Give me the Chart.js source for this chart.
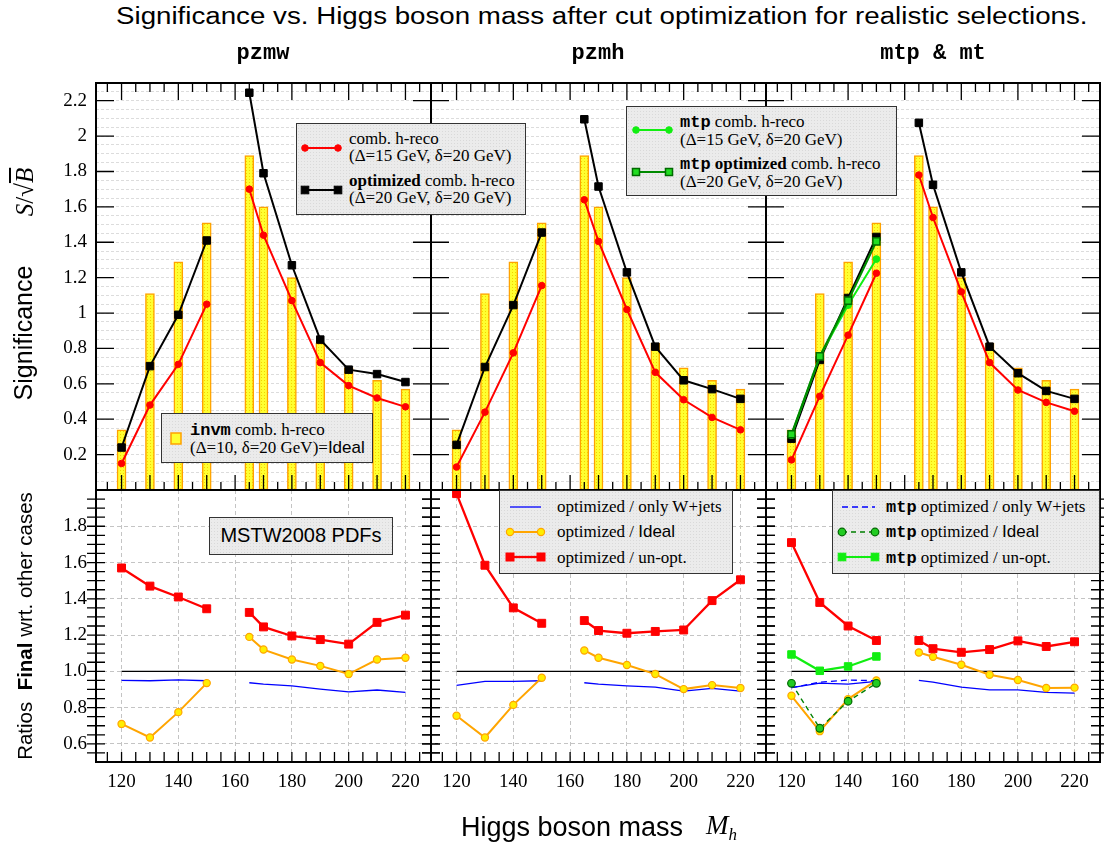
<!DOCTYPE html>
<html>
<head>
<meta charset="utf-8">
<script src="https://cdn.jsdelivr.net/npm/chart.js@4.4.0/dist/chart.umd.min.js"></script>
<style>
  body { margin: 0; background: #fff; }
  #wrap { position: relative; width: 1104px; height: 852px; overflow: hidden; font-family: "Liberation Serif", serif; }
  #wrap canvas { position: absolute; }
  .txt { position: absolute; white-space: nowrap; color: #000; }
  .rot { position: absolute; white-space: nowrap; transform: translate(-50%, -50%) rotate(-90deg); }
  .box { position: absolute; box-sizing: border-box; border: 1.5px solid #333; background-color: #ebebeb;
         background-image: radial-gradient(#d9d9d9 0.7px, transparent 0.8px); background-size: 3px 3px; }
  .lt { position: absolute; white-space: nowrap; font: 17px/17px "Liberation Serif", serif; }
  .mono { font-family: "Liberation Mono", monospace; font-weight: bold; }
  .sans { font-family: "Liberation Sans", sans-serif; }
</style>
</head>
<body>
<div id="wrap"></div>
<script>
// masses (GeV) at which things were computed
const masses = [120, 130, 140, 150, 165, 170, 180, 190, 200, 210, 220];
const lowMasses = [120, 130, 140, 150];
const xLabels = [120, 140, 160, 180, 200, 220];
const sigTicks = [0.2, 0.4, 0.6, 0.8, 1, 1.2, 1.4, 1.6, 1.8, 2, 2.2];
const ratioTicks = [0.6, 0.8, 1.0, 1.2, 1.4, 1.6, 1.8];

// invm ideal (yellow bars), same in all panels
const idealBars = [0.34, 1.11, 1.29, 1.51, 1.89, 1.60, 1.20, 0.83, 0.69, 0.62, 0.57];

// significance
const pzmwComb = [0.15, 0.48, 0.71, 1.05, 1.70, 1.44, 1.07, 0.72, 0.59, 0.52, 0.47];
const pzmwOpt  = [0.24, 0.70, 0.99, 1.41, 2.245, 1.79, 1.27, 0.85, 0.68, 0.655, 0.61];
const pzmhComb = [0.13, 0.44, 0.775, 1.155, 1.64, 1.405, 1.02, 0.665, 0.51, 0.41, 0.34];
const pzmhOpt  = [0.255, 0.695, 1.045, 1.455, 2.095, 1.715, 1.23, 0.81, 0.62, 0.57, 0.515];
const mtComb   = [0.17, 0.53, 0.875, 1.225, 1.78, 1.54, 1.12, 0.72, 0.565, 0.495, 0.445];
const mtOpt    = [0.29, 0.735, 1.085, 1.43, 2.075, 1.725, 1.23, 0.81, 0.66, 0.56, 0.515];
const mtpComb  = [0.31, 0.755, 1.045, 1.305];
const mtpOpt   = [0.315, 0.755, 1.07, 1.405];

// ratios
const pzmwUnopt = [1.57, 1.47, 1.41, 1.345, 1.325, 1.245, 1.195, 1.175, 1.15, 1.27, 1.31];
const pzmwIdeal = [0.71, 0.635, 0.775, 0.935, 1.19, 1.12, 1.065, 1.03, 0.985, 1.065, 1.075];
const pzmwWjets = [0.95, 0.948, 0.953, 0.948, 0.937, 0.93, 0.92, 0.902, 0.887, 0.897, 0.884];
const pzmhUnopt = [1.98, 1.585, 1.35, 1.265, 1.28, 1.225, 1.21, 1.22, 1.228, 1.39, 1.505];
const pzmhIdeal = [0.755, 0.635, 0.815, 0.965, 1.115, 1.075, 1.035, 0.985, 0.902, 0.924, 0.908];
const pzmhWjets = [0.923, 0.945, 0.945, 0.948, 0.937, 0.93, 0.92, 0.913, 0.891, 0.906, 0.891];
const mtUnopt   = [1.71, 1.38, 1.25, 1.17, 1.17, 1.125, 1.105, 1.12, 1.168, 1.137, 1.163];
const mtIdeal   = [0.865, 0.67, 0.847, 0.95, 1.104, 1.08, 1.036, 0.981, 0.952, 0.908, 0.91];
const mtWjets   = [0.91, 0.935, 0.93, 0.945, 0.95, 0.94, 0.913, 0.898, 0.898, 0.884, 0.88];
const mtpWjets  = [0.91, 0.94, 0.952, 0.948];
const mtpIdeal  = [0.934, 0.686, 0.835, 0.934];
const mtpUnopt  = [1.093, 1.003, 1.027, 1.082];
const refLine   = [1, 1];

const wrap = document.getElementById('wrap');
const cols = [{l: 96, w: 335}, {l: 431, w: 335}, {l: 766, w: 334}];
const rows = [{t: 83, h: 407, min: 0, max: 2.3}, {t: 490, h: 272, min: 0.5, max: 2.0}];
// generous padding so the scale's own label padding never moves the plot area
const PADL = 70, PADT = 40, PADR = 20, PADB = 45;

function pts(xs, ys) { return ys.map((y, i) => ({x: xs[i], y: y})); }

// no line across the 150 -> 165 gap
const gap = {borderColor: c => c.p0.parsed.x === 150 ? 'rgba(0,0,0,0)' : undefined};

function line(xs, ys, color, width, o) {
  return Object.assign({
    type: 'line', data: pts(xs, ys), borderColor: color, borderWidth: width,
    pointRadius: 0, pointBorderWidth: 1, tension: 0, fill: false, segment: gap
  }, o || {});
}

function barPattern() {
  const p = document.createElement('canvas');
  p.width = 3; p.height = 3;
  const g = p.getContext('2d');
  g.fillStyle = '#ffff30'; g.fillRect(0, 0, 3, 3);
  g.fillStyle = '#f2d400'; g.fillRect(1, 1, 1, 1);
  return g.createPattern(p, 'repeat');
}

function bars() {
  return {type: 'bar', data: pts(masses, idealBars), backgroundColor: barPattern(),
          borderColor: '#ffa200', borderWidth: 1.5, borderSkipped: false, barThickness: 9};
}

const redComb = ys => line(masses, ys, '#ff0000', 2, {pointRadius: 3.3, pointBackgroundColor: '#ff0000', pointBorderColor: '#ff0000'});
const blackOpt = ys => line(masses, ys, '#000', 2, {pointStyle: 'rect', pointRadius: 5.3, pointBackgroundColor: '#000', pointBorderColor: '#000'});
const redUnopt = ys => line(masses, ys, '#ff0000', 2.3, {pointStyle: 'rect', pointRadius: 5.6, pointBackgroundColor: '#ff0000', pointBorderColor: '#ff0000'});
const orangeIdeal = ys => line(masses, ys, '#ffa500', 2, {pointRadius: 3.6, pointBorderWidth: 1.2, pointBackgroundColor: '#ffee00', pointBorderColor: '#ffa500'});
const blueWjets = ys => line(masses, ys, '#0000ff', 1.3);
const ref = () => line([120, 220], refLine, '#000', 1.4, {segment: {}});

function framePlugin(top) {
  return {
    id: 'frame',
    afterDatasetsDraw(chart) {
      const {ctx, chartArea: a, scales: {x, y}} = chart;
      ctx.save();
      ctx.strokeStyle = '#000';
      ctx.lineWidth = 1.3;
      ctx.beginPath();
      if (top) {
        for (let k = 1; k <= 11; k++) {
          const py = y.getPixelForValue(k * 0.2);
          ctx.moveTo(a.left, py); ctx.lineTo(a.left + 18, py);
          ctx.moveTo(a.right, py); ctx.lineTo(a.right - 18, py);
        }
        for (let m = 115; m <= 225; m += 5) {
          const px = x.getPixelForValue(m);
          const lt = m % 20 === 0 ? 17 : 9, lb = m % 10 === 0 ? 15 : 8;
          ctx.moveTo(px, a.top); ctx.lineTo(px, a.top + lt);
          ctx.moveTo(px, a.bottom); ctx.lineTo(px, a.bottom - lb);
        }
      } else {
        for (let k = 11; k <= 39; k++) {
          const py = y.getPixelForValue(k * 0.05);
          ctx.moveTo(a.left - 9, py); ctx.lineTo(a.left + 9, py);
          ctx.moveTo(a.right - 9, py); ctx.lineTo(a.right + 9, py);
        }
        for (let m = 115; m <= 225; m += 5) {
          const px = x.getPixelForValue(m);
          ctx.moveTo(px, a.bottom); ctx.lineTo(px, a.bottom - 10);
        }
      }
      ctx.stroke();
      ctx.lineWidth = 2;
      ctx.strokeRect(a.left, a.top, a.right - a.left, a.bottom - a.top);
      ctx.restore();
    }
  };
}

const sigGrid = [];
for (let k = 1; k <= 45; k++) sigGrid.push(+(k * 0.05).toFixed(2));

function panel(c, r, datasets) {
  const col = cols[c], row = rows[r], top = r === 0;
  const cv = document.createElement('canvas');
  const W = col.w + PADL + PADR, H = row.h + PADT + PADB;
  cv.width = W; cv.height = H;
  cv.style.left = (col.l - PADL) + 'px';
  cv.style.top = (row.t - PADT) + 'px';
  cv.style.width = W + 'px';
  cv.style.height = H + 'px';
  wrap.appendChild(cv);
  const tickFont = {family: 'Liberation Serif', size: 19};
  new Chart(cv, {
    type: 'line',
    data: {datasets: datasets},
    options: {
      responsive: false, animation: false, devicePixelRatio: 1,
      layout: {padding: {left: 0, top: PADT, right: PADR, bottom: 0}, autoPadding: false},
      plugins: {legend: {display: false}, tooltip: {enabled: false}},
      scales: {
        x: {
          type: 'linear', min: 111, max: 229, offset: false,
          afterFit: s => { s.height = PADB; },
          afterBuildTicks: s => { s.ticks = xLabels.map(v => ({value: v})); },
          grid: {display: !top, color: '#c4c4c4', lineWidth: 1, drawTicks: false},
          border: {display: false, dash: [4, 3]},
          ticks: {display: !top, autoSkip: false, maxRotation: 0, padding: 9, color: '#000', font: tickFont}
        },
        y: {
          type: 'linear', min: row.min, max: row.max,
          afterFit: s => { s.width = PADL; },
          afterBuildTicks: s => { s.ticks = (top ? sigGrid : ratioTicks).map(v => ({value: v})); },
          grid: {color: top ? '#dcdcdc' : '#c4c4c4', lineWidth: 1, drawTicks: false},
          border: {display: false, dash: top ? [3, 2] : [4, 3]},
          ticks: {
            display: c === 0, autoSkip: false, padding: 9, color: '#000', font: tickFont,
            callback: v => top ? (sigTicks.includes(+v.toFixed(2)) ? String(+v.toFixed(2)) : '') : v.toFixed(1)
          }
        }
      }
    },
    plugins: [framePlugin(top)]
  });
}

// top row: significance
panel(0, 0, [blackOpt(pzmwOpt), redComb(pzmwComb), bars()]);
panel(1, 0, [blackOpt(pzmhOpt), redComb(pzmhComb), bars()]);
panel(2, 0, [
  line(lowMasses, mtpOpt, '#008a00', 2.2, {pointStyle: 'rect', pointRadius: 5, pointBorderWidth: 1.5, pointBackgroundColor: '#22dd22', pointBorderColor: '#006a00'}),
  line(lowMasses, mtpComb, '#11ee11', 2, {pointRadius: 3.4, pointBackgroundColor: '#11ee11', pointBorderColor: '#11ee11'}),
  blackOpt(mtOpt), redComb(mtComb), bars()
]);

// bottom row: ratios
panel(0, 1, [redUnopt(pzmwUnopt), orangeIdeal(pzmwIdeal), blueWjets(pzmwWjets), ref()]);
panel(1, 1, [redUnopt(pzmhUnopt), orangeIdeal(pzmhIdeal), blueWjets(pzmhWjets), ref()]);
panel(2, 1, [
  line(lowMasses, mtpIdeal, '#008000', 1.4, {borderDash: [5, 4], pointRadius: 3.8, pointBorderWidth: 1.2, pointBackgroundColor: '#22cc22', pointBorderColor: '#006600'}),
  line(lowMasses, mtpUnopt, '#11ee11', 2.2, {pointStyle: 'rect', pointRadius: 5.3, pointBackgroundColor: '#11ee11', pointBorderColor: '#11ee11'}),
  line(lowMasses, mtpWjets, '#0000ff', 1.3, {borderDash: [6, 4]}),
  redUnopt(mtUnopt), orangeIdeal(mtIdeal), blueWjets(mtWjets), ref()
]);

// ---- texts and legends ----
function add(html, cls, style) {
  const d = document.createElement('div');
  d.className = cls;
  d.innerHTML = html;
  Object.assign(d.style, style);
  wrap.appendChild(d);
  return d;
}

const title = add('Significance vs. Higgs boson mass after cut optimization for realistic selections.', 'txt sans',
  {left: '116px', top: '3px', fontSize: '23px', transformOrigin: '0 0'});
title.style.transform = 'scaleX(' + (972 / title.offsetWidth) + ')';

[['pzmw', 263], ['pzmh', 598], ['mtp &amp; mt', 933]].forEach(([t, cx]) => {
  add(t, 'txt mono', {left: cx + 'px', top: '41px', fontSize: '22px', transform: 'translateX(-50%)'});
});

add('Significance', 'rot sans', {left: '23px', top: '333px', fontSize: '25px'});
add('<i>S</i>/√<span style="text-decoration:overline"><i>B</i></span>', 'rot', {left: '25px', top: '192px', fontSize: '25px'});
add('Ratios&nbsp;&nbsp;<b>Final</b> wrt. other cases', 'rot sans', {left: '25px', top: '626px', fontSize: '20.5px'});

add('Higgs boson mass', 'txt sans', {left: '461px', top: '812px', fontSize: '27px'});
add('<i>M<sub style="font-size:17px">h</sub></i>', 'txt', {left: '706px', top: '810px', fontSize: '27px'});

// legend boxes
add('', 'box', {left: '296px', top: '123px', width: '230px', height: '92px'});
add('comb. h-reco<br>(Δ=15 GeV, δ=20 GeV)', 'lt', {left: '349px', top: '130px'});
add('<b>optimized</b> comb. h-reco<br>(Δ=20 GeV, δ=20 GeV)', 'lt', {left: '349px', top: '172px'});

add('', 'box', {left: '626px', top: '106px', width: '271px', height: '90px'});
add('<span class="mono">mtp</span> comb. h-reco<br>(Δ=15 GeV, δ=20 GeV)', 'lt', {left: '680px', top: '113px'});
add('<span class="mono">mtp</span> <b>optimized</b> comb. h-reco<br>(Δ=20 GeV, δ=20 GeV)', 'lt', {left: '680px', top: '155px'});

add('', 'box', {left: '161px', top: '413px', width: '212px', height: '50px'});
add('<span class="mono">invm</span> comb. h-reco<br>(Δ=10, δ=20 GeV)=<span class="sans">Ideal</span>', 'lt', {left: '190px', top: '421px'});

add('', 'box', {left: '209px', top: '517px', width: '184px', height: '38px'});
add('MSTW2008 PDFs', 'txt sans', {left: '301px', top: '524px', fontSize: '20px', transform: 'translateX(-50%)'});

add('', 'box', {left: '499px', top: '490px', width: '234px', height: '84px'});
add('optimized / only W+jets', 'lt', {left: '557px', top: '498px'});
add('optimized / <span class="sans">Ideal</span>', 'lt', {left: '557px', top: '523px'});
add('optimized / un-opt.', 'lt', {left: '557px', top: '549px'});

add('', 'box', {left: '832px', top: '490px', width: '268px', height: '84px'});
add('<span class="mono">mtp</span> optimized / only W+jets', 'lt', {left: '886px', top: '498px'});
add('<span class="mono">mtp</span> optimized / <span class="sans">Ideal</span>', 'lt', {left: '886px', top: '523px'});
add('<span class="mono">mtp</span> optimized / un-opt.', 'lt', {left: '886px', top: '549px'});

// legend symbols
const NS = 'http://www.w3.org/2000/svg';
const svg = document.createElementNS(NS, 'svg');
svg.setAttribute('width', 1104); svg.setAttribute('height', 852);
svg.style.cssText = 'position:absolute;left:0;top:0;pointer-events:none';
wrap.appendChild(svg);
function s(tag, attrs) {
  const e = document.createElementNS(NS, tag);
  for (const k in attrs) e.setAttribute(k, attrs[k]);
  svg.appendChild(e);
}
function sym(x1, x2, y, stroke, w, dash, mk) {
  s('line', {x1: x1, y1: y, x2: x2, y2: y, stroke: stroke, 'stroke-width': w, 'stroke-dasharray': dash || 'none'});
  if (!mk) return;
  [x1, x2].forEach(x => {
    if (mk.shape === 'rect') s('rect', {x: x - mk.r, y: y - mk.r, width: 2 * mk.r, height: 2 * mk.r, fill: mk.fill, stroke: mk.stroke, 'stroke-width': mk.sw || 1});
    else s('circle', {cx: x, cy: y, r: mk.r, fill: mk.fill, stroke: mk.stroke, 'stroke-width': mk.sw || 1});
  });
}
sym(305, 338, 148, '#ff0000', 2, null, {r: 3.3, fill: '#ff0000', stroke: '#ff0000'});
sym(305, 338, 190, '#000', 2, null, {shape: 'rect', r: 3.8, fill: '#000', stroke: '#000'});
sym(636, 669, 130, '#11ee11', 2, null, {r: 3.3, fill: '#11ee11', stroke: '#11ee11'});
sym(636, 669, 172, '#008a00', 2.2, null, {shape: 'rect', r: 3.5, fill: '#22dd22', stroke: '#006a00', sw: 1.5});
s('rect', {x: 171, y: 433, width: 10, height: 11, fill: '#ffff30', stroke: '#ffa200', 'stroke-width': 1.5});
sym(510, 541, 507, '#0000ff', 1.3);
sym(510, 541, 532, '#ffa500', 2, null, {r: 3.6, fill: '#ffee00', stroke: '#ffa500', sw: 1.2});
sym(510, 541, 557, '#ff0000', 2.3, null, {shape: 'rect', r: 4, fill: '#ff0000', stroke: '#ff0000'});
sym(842, 875, 507, '#0000ff', 1.3, '6 4');
sym(842, 875, 532, '#008000', 1.4, '5 4', {r: 3.8, fill: '#22cc22', stroke: '#006600', sw: 1.2});
sym(842, 875, 557, '#11ee11', 2.2, null, {shape: 'rect', r: 3.8, fill: '#11ee11', stroke: '#11ee11'});
</script>
</body>
</html>
